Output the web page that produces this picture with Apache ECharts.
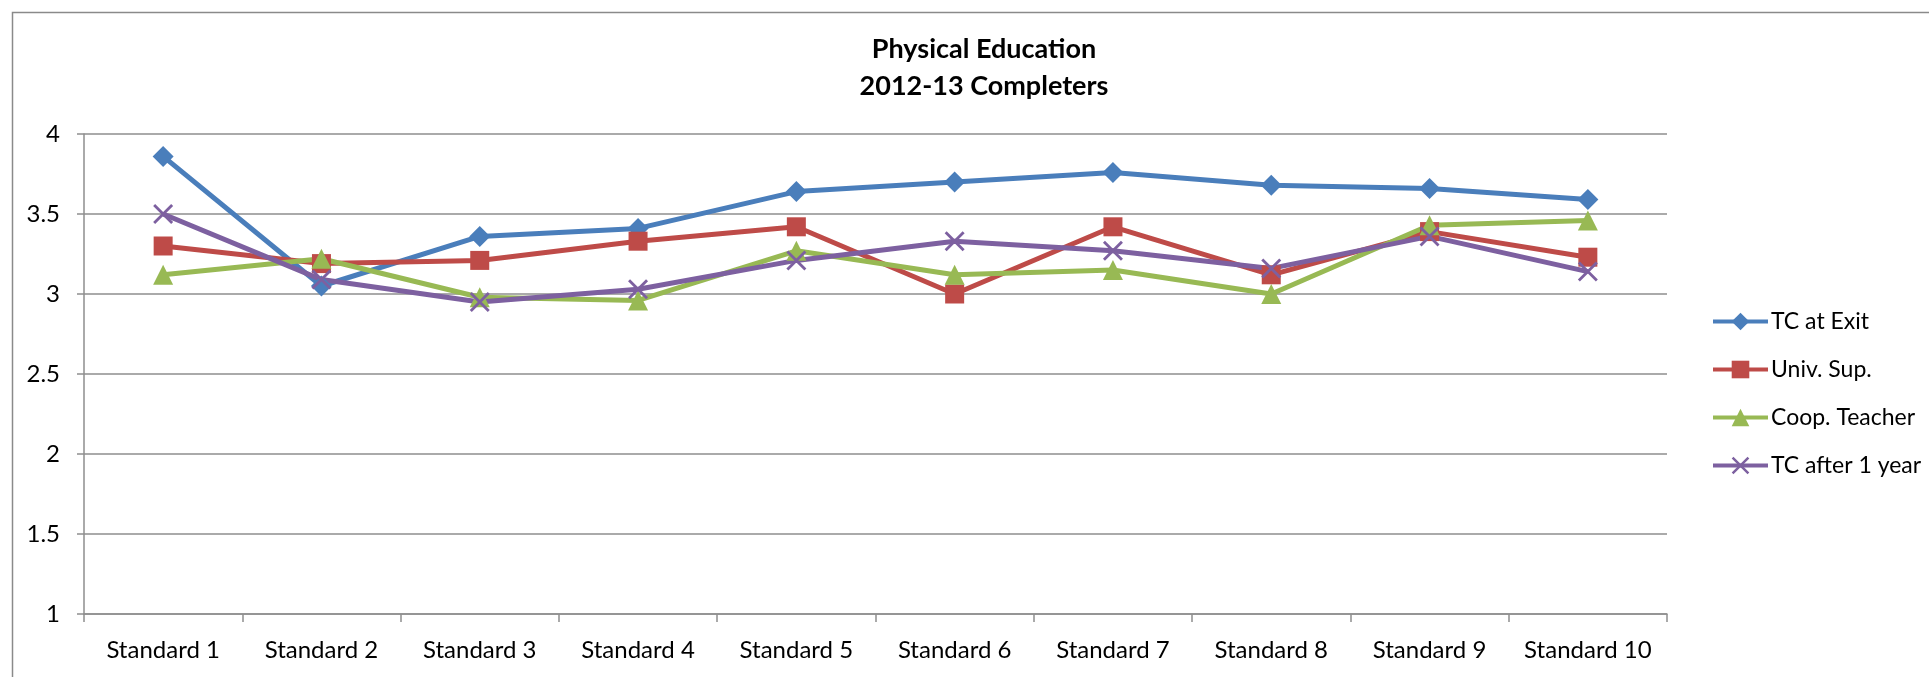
<!DOCTYPE html>
<html>
<head>
<meta charset="utf-8">
<script src="https://cdn.jsdelivr.net/npm/echarts@6.0.0/dist/echarts.min.js"></script>
<style>
  html, body { margin: 0; padding: 0; background: #fff; }
  #peChart { width: 1929px; height: 677px; }
</style>
</head>
<body>
<div id="peChart"></div>
<script>
  const categories = ['Standard 1', 'Standard 2', 'Standard 3', 'Standard 4', 'Standard 5',
    'Standard 6', 'Standard 7', 'Standard 8', 'Standard 9', 'Standard 10']
  const tcAtExit = [3.86, 3.05, 3.36, 3.41, 3.64, 3.70, 3.76, 3.68, 3.66, 3.59]
  const univSup = [3.30, 3.19, 3.21, 3.33, 3.42, 3.00, 3.42, 3.12, 3.39, 3.23]
  const coopTeacher = [3.12, 3.22, 2.98, 2.96, 3.27, 3.12, 3.15, 3.00, 3.43, 3.46]
  const tcAfterYear = [3.50, 3.09, 2.95, 3.03, 3.21, 3.33, 3.27, 3.16, 3.36, 3.14]
  const seriesNames = ['TC at Exit', 'Univ. Sup.', 'Coop. Teacher', 'TC after 1 year']

  // thin X marker as a filled outline
  const crossPath = 'path://M0,1L1,0L10,9L9,10ZM9,0L10,1L1,10L0,9Z'

  let fontName = 'Lato, "Open Sans", sans-serif'
  let gridColor = '#8e8e8e'

  function makeLine(name, data, color, symbol, size) {
    return {
      name: name,
      type: 'line',
      data: data,
      symbol: symbol,
      symbolSize: size,
      showSymbol: true,
      lineStyle: {color: color, width: 5},
      itemStyle: {color: color, borderColor: color, borderWidth: 0, opacity: 1},
      emphasis: {disabled: true},
      z: 3
    }
  }

  let myChart = echarts.init(document.getElementById('peChart'))
  let myChartOption = {
    animation: false,
    backgroundColor: '#ffffff',
    textStyle: {fontFamily: fontName},
    graphic: [{
      type: 'rect',
      left: 10,
      top: 10,
      shape: {width: 2000, height: 800},
      style: {fill: 'none', stroke: '#8a8a8a', lineWidth: 1.5},
      silent: true
    }],
    title: {
      text: 'Physical Education\n2012-13 Completers',
      left: 979,
      top: 26,
      textAlign: 'center',
      textStyle: {
        fontFamily: fontName,
        fontWeight: 'bold',
        fontSize: 27,
        lineHeight: 37,
        color: '#000'
      }
    },
    legend: {
      orient: 'vertical',
      left: 1706,
      top: 305,
      itemWidth: 55,
      itemHeight: 22,
      itemGap: 25,
      data: seriesNames,
      lineStyle: {width: 4},
      textStyle: {fontFamily: fontName, fontSize: 23, lineHeight: 20, color: '#000', padding: [0, 0, 0, -2]}
    },
    grid: {
      left: 84,
      right: 262,
      top: 134,
      bottom: 63,
      containLabel: false
    },
    xAxis: {
      type: 'category',
      data: categories,
      boundaryGap: true,
      axisLine: {lineStyle: {color: gridColor, width: 1.5}},
      axisTick: {show: true, alignWithLabel: false, length: 8, lineStyle: {color: gridColor, width: 1.5}},
      axisLabel: {interval: 0, margin: 24, fontSize: 24, color: '#000', fontFamily: fontName},
      splitLine: {show: false}
    },
    yAxis: {
      type: 'value',
      min: 1,
      max: 4,
      interval: 0.5,
      axisLine: {show: true, lineStyle: {color: gridColor, width: 1.5}},
      axisTick: {show: true, length: 7, lineStyle: {color: gridColor, width: 1.5}},
      axisLabel: {margin: 24, fontSize: 24, color: '#000', fontFamily: fontName},
      splitLine: {lineStyle: {color: gridColor, width: 1.5}}
    },
    series: [
      makeLine(seriesNames[0], tcAtExit, '#4a7ebb', 'diamond', 21),
      makeLine(seriesNames[1], univSup, '#be4b48', 'rect', 19),
      makeLine(seriesNames[2], coopTeacher, '#98b954', 'triangle', 20),
      makeLine(seriesNames[3], tcAfterYear, '#7d60a0', crossPath, 20)
    ]
  }
  myChart.setOption(myChartOption)
</script>
</body>
</html>
